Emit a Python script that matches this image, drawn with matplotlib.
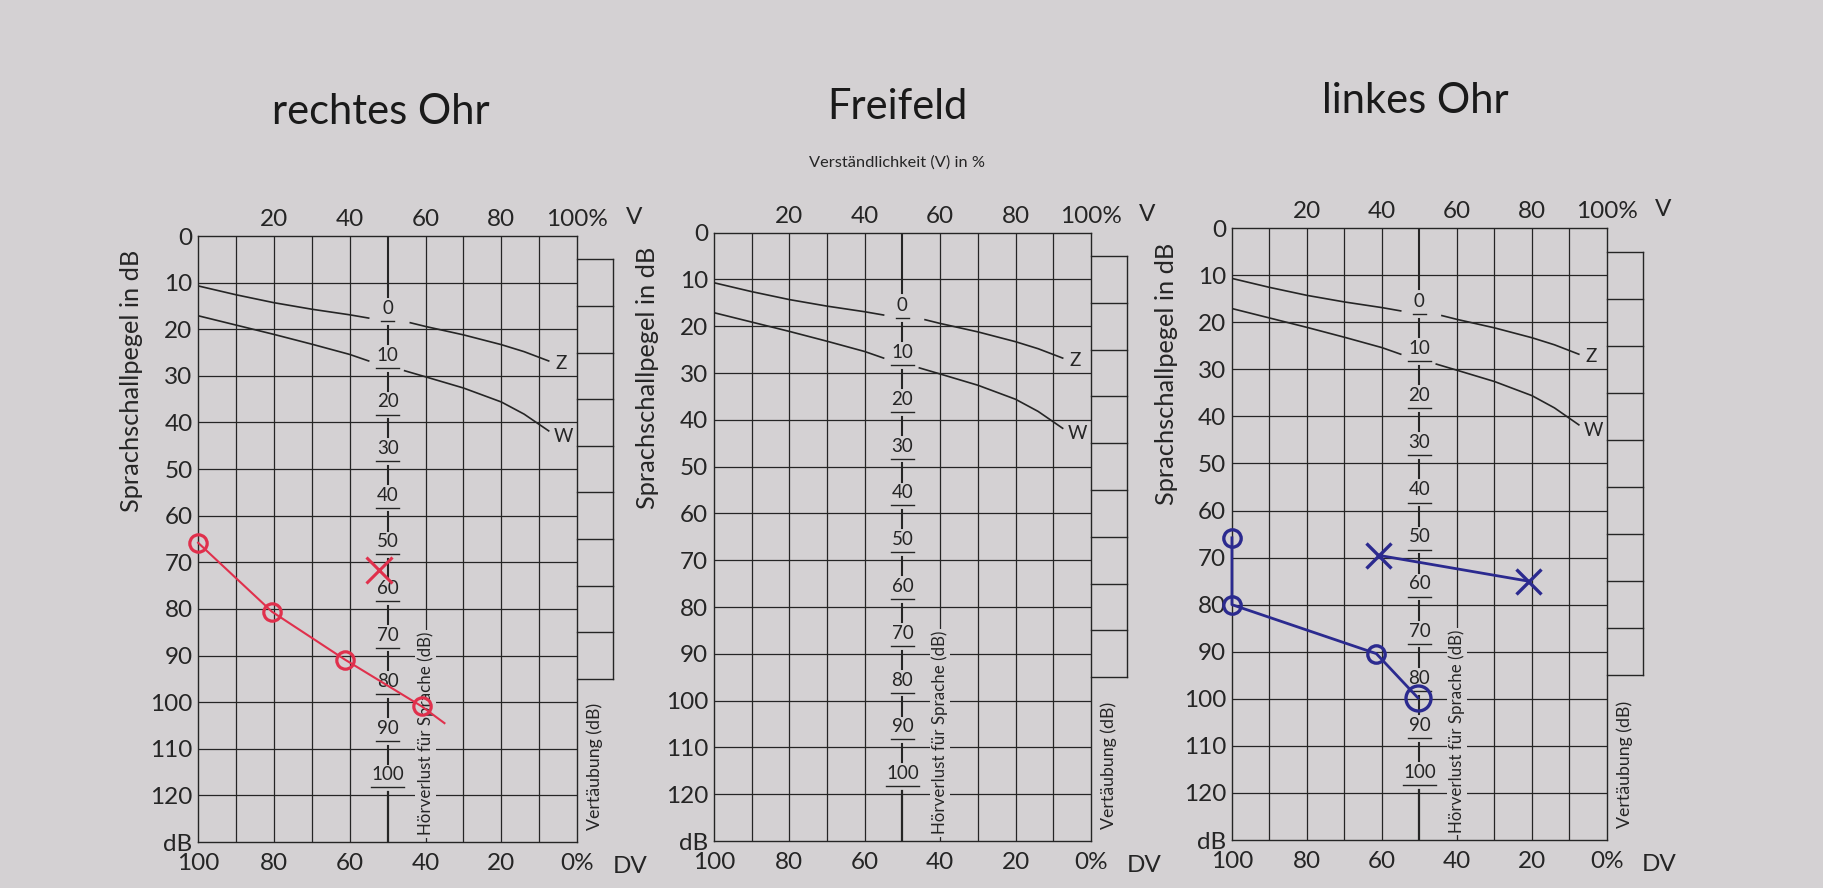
import matplotlib
matplotlib.use("Agg")
import matplotlib.pyplot as plt
from matplotlib.transforms import blended_transform_factory

plt.rcParams['font.family'] = ['Lato', 'DejaVu Sans']

# %%
# Texts and ticks
panel_titles = ["rechtes Ohr", "Freifeld", "linkes Ohr"]
v_ticks = [20, 40, 60, 80, 100]
v_tick_labels = ["20", "40", "60", "80", "100%"]
dv_ticks = [0, 20, 40, 60, 80, 100]
dv_tick_labels = ["100", "80", "60", "40", "20", "0%"]
db_ticks = list(range(0, 131, 10))
db_tick_labels = [str(t) for t in range(0, 121, 10)] + ["dB"]
hv_labels = list(range(0, 101, 10))      # Hörverlust für Sprache (dB)

# %%
# Normal curves, Z = Zahlen, W = Wörter (broken at the Hörverlust scale)
z_left_v = [0, 10, 20, 30, 40, 45]
z_left_db = [10.7, 12.6, 14.3, 15.7, 16.9, 17.6]
z_right_v = [56, 60, 70, 80, 86, 92.5]
z_right_db = [18.6, 19.4, 21.2, 23.3, 24.8, 26.8]
w_left_v = [0, 10, 20, 30, 40, 45]
w_left_db = [17.1, 19.1, 21.1, 23.2, 25.4, 26.8]
w_right_v = [54.5, 60, 70, 80, 86, 92.5]
w_right_db = [28.9, 30.2, 32.6, 35.6, 38.2, 41.8]

# %%
# rechtes Ohr (red pen)
right_words_v = [0, 19.5, 38.8, 59]
right_words_db = [65.8, 80.6, 90.9, 100.9]
right_curve_v = [0, 19.5, 38.8, 59, 65]
right_curve_db = [65.8, 80.6, 90.9, 100.9, 104.5]
right_numbers_v = [47.7]
right_numbers_db = [71.6]

# linkes Ohr (blue pen)
left_words_v = [0, 0, 38.5, 49.6]
left_words_db = [65.8, 80, 90.4, 99.8]
left_numbers_v = [39, 79]
left_numbers_db = [69.5, 75]

# %%
bg = "#d4d1d3"
ink = "#252525"
red = "#e0304c"
blue = "#2b2a8f"

fig = plt.figure(figsize=(18.24, 8.88), dpi=100, facecolor=bg)

panel_rects = [
    [0.1086, 0.0518, 0.2078, 0.6824],
    [0.3914, 0.0529, 0.2067, 0.6851],
    [0.6754, 0.0540, 0.2056, 0.6892],
]
title_pos = [(0.209, 0.874), (0.492, 0.879), (0.776, 0.886)]
tick_fs = 17.5


def draw_panel(ax):
    ax.set_facecolor(bg)
    ax.set_xlim(0, 100)
    ax.set_ylim(130, 0)

    # grid
    for v in range(10, 100, 10):
        if v != 50:
            ax.axvline(v, color=ink, lw=0.9, zorder=1)
    for d in range(10, 130, 10):
        ax.axhline(d, color=ink, lw=0.9, zorder=1)
    for s in ax.spines.values():
        s.set_color(ink)
        s.set_linewidth(1.0)

    # ticks
    ax.set_yticks(db_ticks, db_tick_labels)
    ax.set_xticks(dv_ticks, dv_tick_labels)
    ax.tick_params(axis="y", length=0, pad=4, labelsize=tick_fs, colors=ink)
    ax.tick_params(axis="x", length=0, pad=8, labelsize=tick_fs, colors=ink)
    top = ax.secondary_xaxis("top")
    top.set_xticks(v_ticks, v_tick_labels)
    top.tick_params(length=0, pad=4, labelsize=tick_fs, colors=ink)
    top.spines["top"].set_visible(False)

    xd_ya = blended_transform_factory(ax.transData, ax.transAxes)
    ax.text(115, 1.03, "V", transform=xd_ya, ha="center", va="center",
            fontsize=tick_fs, color=ink)
    ax.text(114, -0.04, "DV", transform=xd_ya, ha="center", va="center",
            fontsize=tick_fs, color=ink)

    # Hörverlust scale on the 50 % line
    ax.plot([50, 50], [0, 13], color=ink, lw=1.5)
    for n in hv_labels:
        ax.text(50, n + 15.6, str(n), ha="center", va="center",
                fontsize=13.5, color=ink)
        half = 0.4 + 1.35 * len(str(n))
        ax.plot([50 - half, 50 + half], [n + 18.3, n + 18.3], color=ink, lw=1.0)
        if n < 100:
            ax.plot([50, 50], [n + 19.3, n + 23.2], color=ink, lw=1.5)
    ax.plot([50, 50], [119.3, 130], color=ink, lw=1.6)

    # normal curves
    for xs, ys in [(z_left_v, z_left_db), (z_right_v, z_right_db),
                   (w_left_v, w_left_db), (w_right_v, w_right_db)]:
        ax.plot(xs, ys, color=ink, lw=1.2)
    ax.text(94.3, 27.3, "Z", fontsize=13.5, va="center", color=ink)
    ax.text(93.8, 43, "W", fontsize=13.5, va="center", color=ink)

    ax.text(60, 128.6, "Hörverlust für Sprache (dB)", rotation=90,
            ha="center", va="bottom", fontsize=12.2, color=ink, zorder=2.5,
            bbox=dict(fc=bg, ec="none", pad=1.5))

    # Vertäubung column
    bw = 9.5
    ax.plot([100 + bw, 100 + bw], [5, 95], color=ink, lw=1.0, clip_on=False)
    for d in range(5, 96, 10):
        ax.plot([100, 100 + bw], [d, d], color=ink, lw=1.0, clip_on=False)
    ax.text(100 + bw / 2, 127.5, "Vertäubung (dB)", rotation=90, ha="center",
            va="bottom", fontsize=12.8, color=ink, clip_on=False)

    ya_xd = blended_transform_factory(ax.transAxes, ax.transData)
    ax.text(-0.175, 31, "Sprachschallpegel in dB", transform=ya_xd,
            rotation=90, ha="center", va="center", fontsize=18.3, color=ink)


axes = []
for rect, title, tpos in zip(panel_rects, panel_titles, title_pos):
    ax = fig.add_axes(rect)
    draw_panel(ax)
    fig.text(tpos[0], tpos[1], title, ha="center", va="center",
             fontsize=30, color="#1a1a1a")
    axes.append(ax)

fig.text(0.492, 0.817, "Verständlichkeit (V) in %", ha="center", va="center",
         fontsize=11.8, color=ink)

# %%
# rechtes Ohr measurements
ax = axes[0]
ax.plot(right_curve_v, right_curve_db, color=red, lw=1.5, clip_on=False,
        zorder=5)
ax.plot(right_words_v, right_words_db, "o", mfc="none", mec=red, ms=12.5,
        mew=2.3, clip_on=False, zorder=6)
ax.plot(right_numbers_v, right_numbers_db, "x", color=red, ms=19, mew=2.2,
        zorder=6)

# linkes Ohr measurements
ax = axes[2]
ax.plot(left_words_v, left_words_db, "-", color=blue, lw=2.0, clip_on=False,
        zorder=5)
ax.plot(left_words_v[:-1], left_words_db[:-1], "o", mfc="none", mec=blue,
        ms=12.5, mew=2.4, clip_on=False, zorder=6)
ax.plot(left_words_v[-1:], left_words_db[-1:], "o", mfc="none", mec=blue,
        ms=18, mew=2.4, zorder=6)
ax.plot(left_numbers_v, left_numbers_db, "-x", color=blue, ms=18, mew=2.4,
        lw=2.0, zorder=6)

fig.savefig("out.png", dpi=100, facecolor=bg)
